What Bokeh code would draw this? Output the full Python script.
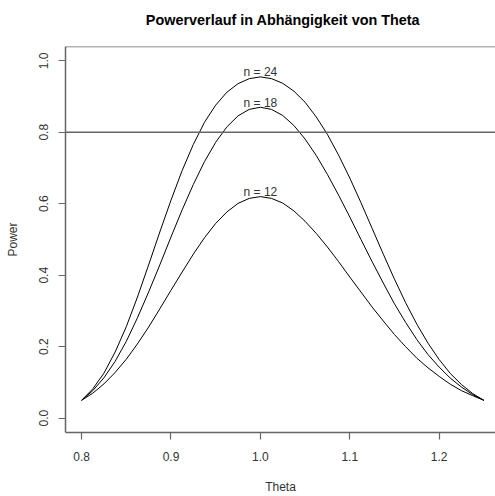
from bokeh.plotting import figure
from bokeh.layouts import column
from bokeh.models import Span, FixedTicker, NumeralTickFormatter, Range1d
from bokeh.core.properties import value
from bokeh.embed import file_html
from bokeh.resources import INLINE

# values
theta = [0.8000, 0.8125, 0.8250, 0.8375, 0.8500, 0.8625, 0.8750, 0.8875, 0.9000,
         0.9125, 0.9250, 0.9375, 0.9500, 0.9625, 0.9750, 0.9875, 1.0000, 1.0125,
         1.0250, 1.0375, 1.0500, 1.0625, 1.0750, 1.0875, 1.1000, 1.1125, 1.1250,
         1.1375, 1.1500, 1.1625, 1.1750, 1.1875, 1.2000, 1.2125, 1.2250, 1.2375,
         1.2500]
power_n24 = [0.050, 0.082, 0.126, 0.185, 0.256, 0.339, 0.429, 0.521, 0.610, 0.693,
             0.766, 0.828, 0.876, 0.912, 0.936, 0.950, 0.955, 0.950, 0.937, 0.915,
             0.884, 0.843, 0.794, 0.736, 0.672, 0.603, 0.531, 0.459, 0.389, 0.323,
             0.263, 0.210, 0.164, 0.125, 0.094, 0.069, 0.050]
power_n18 = [0.050, 0.077, 0.113, 0.159, 0.215, 0.281, 0.353, 0.429, 0.507, 0.583,
             0.654, 0.718, 0.772, 0.815, 0.846, 0.864, 0.870, 0.864, 0.847, 0.819,
             0.781, 0.735, 0.682, 0.624, 0.563, 0.500, 0.438, 0.378, 0.320, 0.268,
             0.220, 0.178, 0.143, 0.112, 0.087, 0.066, 0.050]
power_n12 = [0.050, 0.070, 0.096, 0.128, 0.165, 0.208, 0.255, 0.306, 0.358, 0.409,
             0.459, 0.505, 0.545, 0.577, 0.601, 0.615, 0.620, 0.615, 0.602, 0.580,
             0.551, 0.517, 0.479, 0.438, 0.395, 0.353, 0.311, 0.272, 0.234, 0.200,
             0.168, 0.141, 0.117, 0.095, 0.077, 0.063, 0.050]
series_labels = ["n = 24", "n = 18", "n = 12"]
target_power = 0.8
x_ticks = [0.8, 0.9, 1.0, 1.1, 1.2]
y_ticks = [0.0, 0.2, 0.4, 0.6, 0.8, 1.0]
title_text = "Powerverlauf in Abhängigkeit von Theta"

FONT = "Liberation Sans"
FRAME = "#666666"
TXT = "#333333"

# ---- title strip (44 px high, frame 65..495 px, pixel coordinates) ----
t = figure(width=495, height=44, output_backend="svg", toolbar_location=None,
           x_range=Range1d(65, 495), y_range=Range1d(0, 44),
           min_border_left=65, min_border_right=0, min_border_top=0,
           min_border_bottom=0, x_axis_type=None, y_axis_type=None)
t.outline_line_color = None
t.grid.visible = False
t.border_fill_color = "white"
t.text(x=[282.5], y=[25], text=[title_text], text_align="center",
       text_baseline="middle", text_font=value(FONT), text_font_style="bold",
       text_font_size="14.4px", text_color="black")

# ---- main plot ----
p = figure(width=495, height=452, output_backend="svg", toolbar_location=None,
           x_range=Range1d(0.782, 1.263), y_range=Range1d(-0.04, 1.04),
           min_border_left=65, min_border_right=0, min_border_top=2,
           min_border_bottom=63,
           x_axis_label="Theta", y_axis_label="Power")
p.outline_line_color = None
p.grid.visible = False
p.background_fill_color = "white"
p.border_fill_color = "white"

for ax in (p.xaxis[0], p.yaxis[0]):
    ax.axis_line_color = FRAME
    ax.axis_line_width = 1.5
    ax.major_tick_line_color = FRAME
    ax.major_tick_line_width = 1.2
    ax.major_tick_in = 0
    ax.major_tick_out = 7
    ax.minor_tick_line_color = None
    ax.major_label_text_font = FONT
    ax.major_label_text_font_size = "12px"
    ax.major_label_text_color = TXT
    ax.axis_label_text_font = FONT
    ax.axis_label_text_font_size = "12px"
    ax.axis_label_text_font_style = "normal"
    ax.axis_label_text_color = TXT
    ax.formatter = NumeralTickFormatter(format="0.0")

p.xaxis[0].ticker = FixedTicker(ticks=x_ticks)
p.yaxis[0].ticker = FixedTicker(ticks=y_ticks)
p.yaxis[0].major_label_orientation = "vertical"
p.xaxis[0].major_label_standoff = 12
p.xaxis[0].axis_label_standoff = 16
p.yaxis[0].major_label_standoff = 10
p.yaxis[0].axis_label_standoff = 17

# top frame line
p.add_layout(Span(location=1.04, dimension="width", line_color=FRAME, line_width=1.5))
# target power line
p.add_layout(Span(location=target_power, dimension="width", line_color="#666666", line_width=1.6))

curves = [power_n24, power_n18, power_n12]
for vals in curves:
    p.line(x=theta, y=vals, line_color="black", line_width=1)

label_x = [1.0] * 3
label_y = [max(v) + 0.013 for v in curves]
p.text(x=label_x, y=label_y, text=series_labels, text_align="center",
       text_baseline="middle", text_font=value(FONT), text_font_size="12px",
       text_color=TXT)

layout = column(t, p, spacing=0)
open("out.html", "w").write(file_html(layout, INLINE))
